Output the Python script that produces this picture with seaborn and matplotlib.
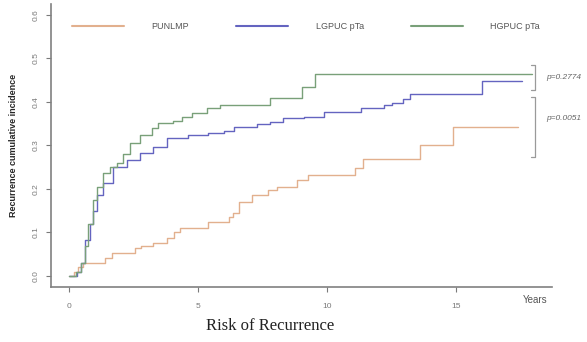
import numpy as np
import pandas as pd
import matplotlib
matplotlib.use("Agg")
import matplotlib.pyplot as plt
import seaborn as sns

# ---- data ----
groups = ["PUNLMP", "LGPUC pTa", "HGPUC pTa"]

t_punlmp = [0, 0.2, 0.35, 0.54, 1.4, 1.65, 2.55, 2.8, 3.25, 3.8, 4.05, 4.3, 5.4,
            6.2, 6.35, 6.6, 7.1, 7.7, 8.06, 8.84, 9.26, 11.1, 11.4, 13.6, 14.9, 17.4]
v_punlmp = [0, 0.01, 0.02, 0.03, 0.041, 0.053, 0.064, 0.07, 0.076, 0.087, 0.1, 0.11, 0.124,
            0.135, 0.145, 0.17, 0.186, 0.198, 0.205, 0.221, 0.232, 0.248, 0.269, 0.301, 0.343, 0.343]

t_lgpuc = [0, 0.3, 0.45, 0.62, 0.8, 0.93, 1.1, 1.3, 1.7, 2.25, 2.75, 3.25, 3.8, 4.6, 5.4,
           6.0, 6.4, 7.3, 7.8, 8.3, 9.1, 9.9, 11.3, 12.2, 12.5, 12.95, 13.2, 16.0, 17.55]
v_lgpuc = [0, 0.01, 0.03, 0.083, 0.12, 0.15, 0.185, 0.214, 0.25, 0.267, 0.283, 0.297, 0.317, 0.324, 0.328,
           0.334, 0.343, 0.349, 0.354, 0.363, 0.366, 0.377, 0.386, 0.393, 0.398, 0.407, 0.418, 0.448, 0.448]

t_hgpuc = [0, 0.25, 0.45, 0.6, 0.75, 0.93, 1.1, 1.32, 1.6, 1.86, 2.1, 2.36, 2.75, 3.2, 3.45,
           4.03, 4.38, 4.77, 5.35, 5.85, 7.79, 9.03, 9.53, 17.95]
v_hgpuc = [0, 0.01, 0.03, 0.07, 0.12, 0.175, 0.205, 0.237, 0.25, 0.26, 0.28, 0.305, 0.324, 0.34, 0.352,
           0.357, 0.366, 0.374, 0.386, 0.393, 0.41, 0.434, 0.464, 0.464]

x_ticks = [0, 5, 10, 15]
y_ticks = [0.0, 0.1, 0.2, 0.3, 0.4, 0.5, 0.6]
p_labels = ["p=0.2774", "p=0.0051"]

colors = {"PUNLMP": "#E2B08E", "LGPUC pTa": "#6464C0", "HGPUC pTa": "#79A079"}

df = pd.concat([
    pd.DataFrame({"t": t_punlmp, "v": v_punlmp, "group": groups[0]}),
    pd.DataFrame({"t": t_lgpuc, "v": v_lgpuc, "group": groups[1]}),
    pd.DataFrame({"t": t_hgpuc, "v": v_hgpuc, "group": groups[2]}),
])

sns.set_style("ticks")
plt.rcParams["font.family"] = ["Liberation Sans", "DejaVu Sans"]

fig = plt.figure(figsize=(5.87, 3.42), dpi=100)
ax = fig.add_axes([51 / 587, 55 / 342, 501 / 587, 283 / 342])

sns.lineplot(data=df, x="t", y="v", hue="group", hue_order=groups, palette=colors,
             drawstyle="steps-post", estimator=None, linewidth=1.0, ax=ax)

ax.set_xlim(-0.7, 18.72)
ax.set_ylim(-0.0253, 0.625)
ax.set_xticks(x_ticks)
ax.set_xticklabels([str(x) for x in x_ticks])
ax.set_yticks(y_ticks)
ax.set_yticklabels([f"{y:.1f}" for y in y_ticks], rotation=90, va="center")
ax.tick_params(axis="both", colors="#7a7a7a", labelsize=6, length=3.5, width=0.8)
ax.tick_params(axis="x", pad=8)
ax.tick_params(axis="y", pad=5)
for s in ["top", "right"]:
    ax.spines[s].set_visible(False)
for s in ["left", "bottom"]:
    ax.spines[s].set_color("#808080")
    ax.spines[s].set_linewidth(1.2)

ax.set_xlabel("")
ax.set_ylabel("Recurrence cumulative incidence", fontsize=6.5, fontweight="bold", labelpad=10)

handles, labels = ax.get_legend_handles_labels()
for h in handles:
    h.set_linewidth(1.5)
leg = ax.legend(handles, labels, ncol=3, loc="upper left", bbox_to_anchor=(0.042, 0.935),
                frameon=False, fontsize=6.5, handlelength=5.8, handletextpad=3.0,
                columnspacing=5.2, borderpad=0, borderaxespad=0)
for txt in leg.get_texts():
    txt.set_color("#555555")

# bracket annotations
bx = 18.06
tick_w = 0.15
brackets = [(0.485, 0.428), (0.411, 0.274)]
for top, bot in brackets:
    ax.plot([bx - tick_w, bx, bx, bx - tick_w], [top, top, bot, bot], color="#9a9a9a",
            lw=0.9, clip_on=False)
ax.text(18.5, (brackets[0][0] + brackets[0][1]) / 2, p_labels[0], fontsize=6, style="italic",
        color="#666666", va="center", ha="left", clip_on=False)
ax.text(18.5, (brackets[1][0] + brackets[1][1]) / 2 + 0.02, p_labels[1], fontsize=6, style="italic",
        color="#666666", va="center", ha="left", clip_on=False)

ax.text(18.05, -0.055, "Years", fontsize=7, color="#555555", ha="center", va="center", clip_on=False)

fig.text(270 / 587, 1 - 326 / 342, "Risk of Recurrence", fontsize=12, ha="center", va="center",
         family=["Liberation Serif", "DejaVu Serif"], color="#222222")

fig.savefig("out.png", dpi=100)
